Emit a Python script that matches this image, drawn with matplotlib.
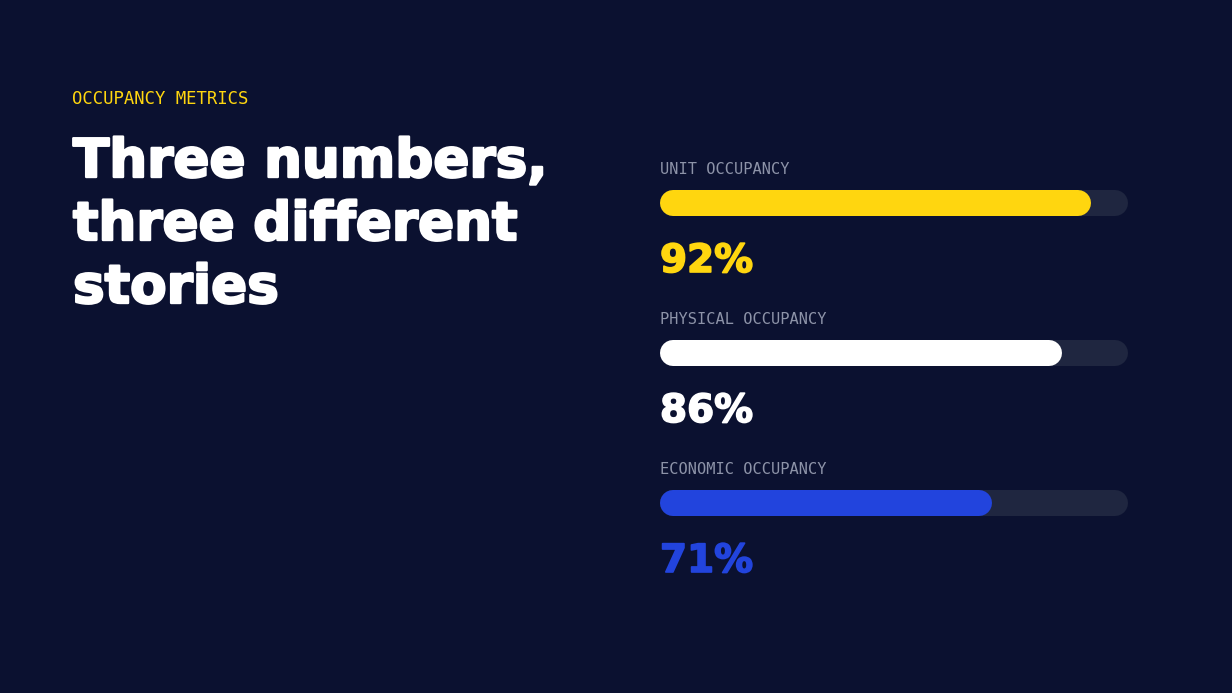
# occupancy metrics slide: three rounded progress bars

import matplotlib
matplotlib.use("Agg")
import matplotlib.pyplot as plt
import matplotlib.patheffects as pe

# data
labels=["UNIT OCCUPANCY","PHYSICAL OCCUPANCY","ECONOMIC OCCUPANCY"]
values=[92,86,71]
value_text=["92%","86%","71%"]

# style
bg="#0b1130"
track="#1f2640"
colors=["#ffd60f","#ffffff","#2244dd"]
grey="#8d93a8"
yellow="#ffd60f"

W,H=1232,693
fig=plt.figure(figsize=(W/100,H/100),dpi=100,facecolor=bg)

# full-figure axes in pixel coords for the text
ax0=fig.add_axes([0,0,1,1])
ax0.set_xlim(0,W);ax0.set_ylim(H,0);ax0.axis('off')
ax0.set_facecolor(bg)

ax0.text(72,99,"OCCUPANCY METRICS",color=yellow,fontsize=12.4,
         family="DejaVu Sans Mono",va='center',ha='left')
title_lines=["Three numbers,","three different","stories"]
for i0,t in enumerate(title_lines):
    ax0.text(73,177+63*i0,t,color="white",fontsize=38.3,fontweight='bold',
             family="DejaVu Sans",va='baseline',ha='left',
             path_effects=[pe.withStroke(linewidth=1.7,foreground="white")])

# bar axes: x from 660 to 1128 px, 0..100 scale
x0,x1=660,1128
ax1=fig.add_axes([x0/W,0,(x1-x0)/W,1])
ax1.set_xlim(0,100);ax1.set_ylim(H,0);ax1.axis('off')
ax1.patch.set_alpha(0)

bar_h=26                       # px
lw=bar_h*72/100                # points
cap=(bar_h/2)/(x1-x0)*100      # round cap length in data units
for i0 in range(len(values)):
    yc=203+150*i0
    ax1.plot([cap,100-cap],[yc,yc],color=track,lw=lw,solid_capstyle='round')
    ax1.plot([cap,values[i0]-cap],[yc,yc],color=colors[i0],lw=lw,solid_capstyle='round')
    ax1.text(0,169+150*i0,labels[i0],color=grey,fontsize=11.1,
             family="DejaVu Sans Mono",va='center',ha='left')
    ax1.text(0,272+150*i0,value_text[i0],color=colors[i0],fontsize=28,
             fontweight='bold',family="DejaVu Sans",va='baseline',ha='left',
             path_effects=[pe.withStroke(linewidth=1.2,foreground=colors[i0])])

fig.savefig("out.png",dpi=100,facecolor=bg)
